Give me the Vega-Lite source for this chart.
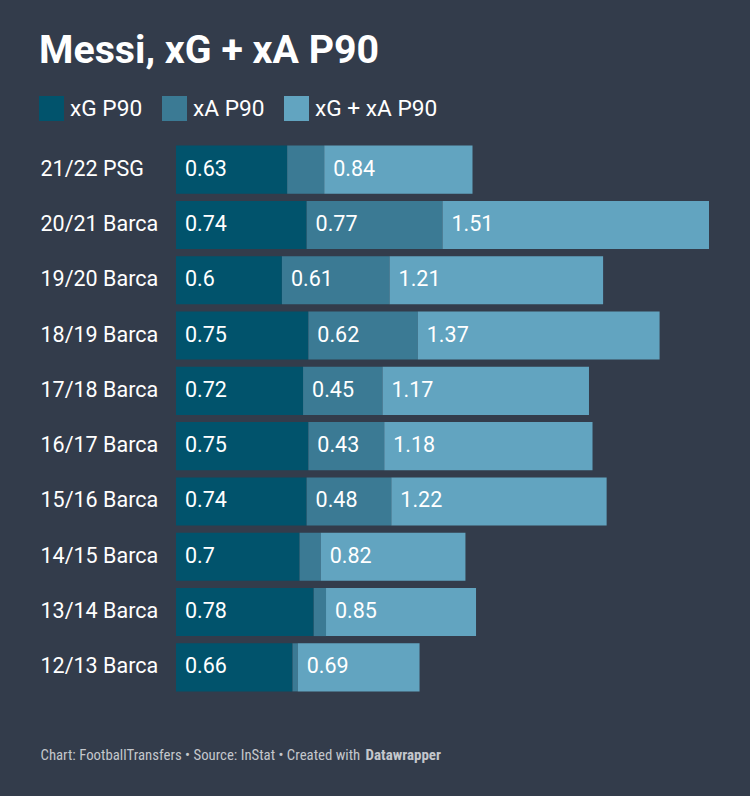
{
  "$schema": "https://vega.github.io/schema/vega-lite/v6.json",
  "width": 533,
  "height": 553,
  "autosize": {"type": "none"},
  "padding": {"left": 176, "top": 142, "right": 41, "bottom": 101},
  "background": "#333c4b",
  "config": {"font": "Roboto", "view": {"stroke": null}},
  "title": {"text": "Messi, xG + xA P90", "anchor": "start", "fontSize": 39.3, "fontWeight": "bold", "color": "#ffffff", "font": "Roboto", "baseline": "alphabetic", "offset": -6},
  "data": {"values": [
    {"season": "21/22 PSG", "series": "xG P90", "k": 1, "value": 0.63},
    {"season": "21/22 PSG", "series": "xA P90", "k": 2, "value": 0.21},
    {"season": "21/22 PSG", "series": "xG + xA P90", "k": 3, "value": 0.84},
    {"season": "20/21 Barca", "series": "xG P90", "k": 1, "value": 0.74},
    {"season": "20/21 Barca", "series": "xA P90", "k": 2, "value": 0.77},
    {"season": "20/21 Barca", "series": "xG + xA P90", "k": 3, "value": 1.51},
    {"season": "19/20 Barca", "series": "xG P90", "k": 1, "value": 0.6},
    {"season": "19/20 Barca", "series": "xA P90", "k": 2, "value": 0.61},
    {"season": "19/20 Barca", "series": "xG + xA P90", "k": 3, "value": 1.21},
    {"season": "18/19 Barca", "series": "xG P90", "k": 1, "value": 0.75},
    {"season": "18/19 Barca", "series": "xA P90", "k": 2, "value": 0.62},
    {"season": "18/19 Barca", "series": "xG + xA P90", "k": 3, "value": 1.37},
    {"season": "17/18 Barca", "series": "xG P90", "k": 1, "value": 0.72},
    {"season": "17/18 Barca", "series": "xA P90", "k": 2, "value": 0.45},
    {"season": "17/18 Barca", "series": "xG + xA P90", "k": 3, "value": 1.17},
    {"season": "16/17 Barca", "series": "xG P90", "k": 1, "value": 0.75},
    {"season": "16/17 Barca", "series": "xA P90", "k": 2, "value": 0.43},
    {"season": "16/17 Barca", "series": "xG + xA P90", "k": 3, "value": 1.18},
    {"season": "15/16 Barca", "series": "xG P90", "k": 1, "value": 0.74},
    {"season": "15/16 Barca", "series": "xA P90", "k": 2, "value": 0.48},
    {"season": "15/16 Barca", "series": "xG + xA P90", "k": 3, "value": 1.22},
    {"season": "14/15 Barca", "series": "xG P90", "k": 1, "value": 0.7},
    {"season": "14/15 Barca", "series": "xA P90", "k": 2, "value": 0.12},
    {"season": "14/15 Barca", "series": "xG + xA P90", "k": 3, "value": 0.82},
    {"season": "13/14 Barca", "series": "xG P90", "k": 1, "value": 0.78},
    {"season": "13/14 Barca", "series": "xA P90", "k": 2, "value": 0.07},
    {"season": "13/14 Barca", "series": "xG + xA P90", "k": 3, "value": 0.85},
    {"season": "12/13 Barca", "series": "xG P90", "k": 1, "value": 0.66},
    {"season": "12/13 Barca", "series": "xA P90", "k": 2, "value": 0.03},
    {"season": "12/13 Barca", "series": "xG + xA P90", "k": 3, "value": 0.69}
  ]},
  "transform": [
    {"stack": "value", "groupby": ["season"], "sort": [{"field": "k", "order": "ascending"}], "as": ["x0", "x1"]}
  ],
  "encoding": {
    "y": {
      "field": "season", "type": "nominal",
      "sort": ["21/22 PSG", "20/21 Barca", "19/20 Barca", "18/19 Barca", "17/18 Barca", "16/17 Barca", "15/16 Barca", "14/15 Barca", "13/14 Barca", "12/13 Barca"],
      "scale": {"paddingInner": 0.13, "paddingOuter": 0.065},
      "axis": {
        "domain": false, "ticks": false, "tickSize": 0, "grid": false,
        "labelAlign": "left", "labelPadding": 136, "labelFontSize": 21.5, "labelColor": "#ffffff", "labelFont": "Roboto", "labelBaseline": "middle",
        "title": "Datawrapper", "titleAngle": 0, "titleX": 189, "titleY": 617, "titleAlign": "left", "titleBaseline": "alphabetic",
        "titleFontSize": 15, "titleFontWeight": "bold", "titleColor": "#c4c7cc", "titleFont": "Roboto Condensed, DejaVu Sans Condensed, Liberation Sans Narrow, Roboto"
      }
    },
    "x": {
      "field": "x0", "type": "quantitative",
      "scale": {"domain": [0, 3.02], "nice": false, "zero": true},
      "axis": {
        "domain": false, "ticks": false, "labels": false, "grid": false,
        "title": "Chart: FootballTransfers • Source: InStat • Created with",
        "titleX": -136, "titleY": 64, "titleAlign": "left", "titleAnchor": "start", "titleBaseline": "alphabetic", "titleLimit": 600,
        "titleFontSize": 14.8, "titleFontWeight": "normal", "titleColor": "#c4c7cc", "titleFont": "Roboto Condensed, DejaVu Sans Condensed, Liberation Sans Narrow, Roboto"
      }
    }
  },
  "layer": [
    {
      "mark": {"type": "bar", "cornerRadius": 0},
      "encoding": {
        "x2": {"field": "x1"},
        "color": {
          "field": "series", "type": "nominal",
          "scale": {"domain": ["xG P90", "xA P90", "xG + xA P90"], "range": ["#01536c", "#3b7a94", "#62a4c0"]},
          "legend": {
            "orient": "none", "legendX": -137, "legendY": -46, "direction": "horizontal", "title": null,
            "symbolType": "square", "symbolSize": 625, "symbolStrokeWidth": 0, "symbolOpacity": 1,
            "labelFontSize": 22.7, "labelColor": "#ffffff", "labelFont": "Roboto", "labelOffset": 6,
            "columnPadding": 19, "padding": 0
          }
        }
      }
    },
    {
      "transform": [{"filter": "datum.value >= 0.3"}],
      "mark": {"type": "text", "align": "left", "baseline": "middle", "dx": 9, "fontSize": 21.5, "color": "#ffffff", "font": "Roboto"},
      "encoding": {
        "text": {"field": "value", "type": "quantitative", "format": "~g"}
      }
    }
  ]
}
